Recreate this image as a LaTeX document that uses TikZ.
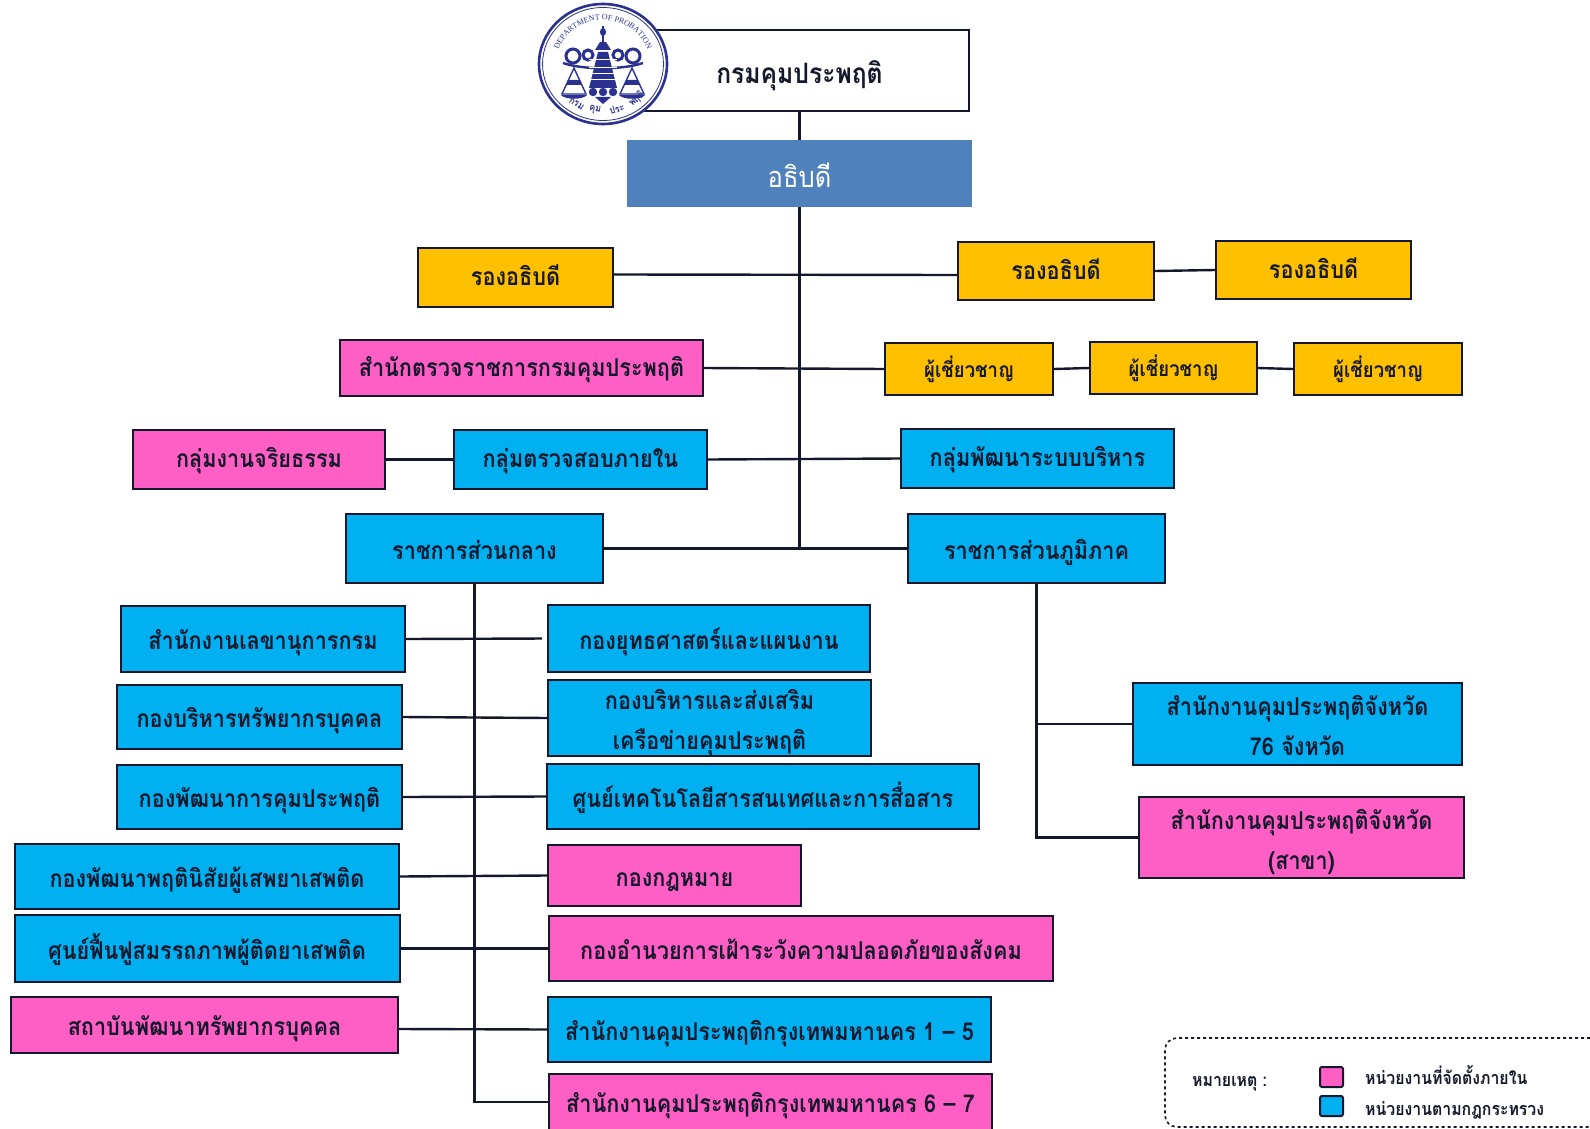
\documentclass[tikz,border=0pt]{standalone}
\usepackage{fontspec}
\setmainfont[Script=Thai,FakeStretch=0.88]{Loma}
\newfontfamily\sealfont{Liberation Serif}
\usetikzlibrary{decorations.text}
\definecolor{chiefblue}{HTML}{4F81BD}
\definecolor{unitblue}{HTML}{00B0F0}
\definecolor{unitpink}{HTML}{FF5FC5}
\definecolor{unitgold}{HTML}{FFC000}
\definecolor{sealnavy}{HTML}{2B3190}
\definecolor{inkdark}{HTML}{14182C}
\tikzset{
  orgbox/.style={draw=inkdark,line width=2pt,inner sep=0pt,text=inkdark,align=center,
    text height=22pt,text depth=6pt,font=\fontsize{24.6}{40}\selectfont\bfseries},
  lowtext/.style={text height=27pt,text depth=6pt},
  twoline/.style={text height=65pt,text depth=2pt},
  bluebox/.style={orgbox,fill=unitblue},
  pinkbox/.style={orgbox,fill=unitpink},
  goldbox/.style={orgbox,fill=unitgold},
  link/.style={draw=inkdark,line width=2.4pt},
  legendtext/.style={inner sep=0pt,anchor=west,text=inkdark,font=\fontsize{18}{20}\selectfont\bfseries},
  swatch/.style={draw=inkdark,line width=2pt,rounded corners=2pt,inner sep=0pt,minimum width=23pt,minimum height=20pt},
}
\begin{document}
\begin{tikzpicture}[x=1pt,y=-1pt]
\useasboundingbox (0,0) rectangle (1590,1129);

% top of the chart
\node[orgbox,fill=white,minimum width=339pt,minimum height=81pt,text height=32pt,font=\fontsize{28}{34}\selectfont\bfseries] (dept) at (799.5,70.5) {กรมคุมประพฤติ};
\node[draw=none,fill=chiefblue,text=white,inner sep=0pt,minimum width=345pt,minimum height=67pt,text height=34pt,text depth=6pt,font=\fontsize{29}{34}\selectfont] (chief) at (799.5,173.5) {อธิบดี};
\coordinate (trunkend) at (799.5,548);

% deputies and experts
\node[goldbox,minimum width=195pt,minimum height=59pt] (deputyA) at (515.5,277.5) {รองอธิบดี};
\node[goldbox,minimum width=196pt,minimum height=58pt] (deputyB) at (1056,271) {รองอธิบดี};
\node[goldbox,minimum width=195pt,minimum height=58pt] (deputyC) at (1313.5,270) {รองอธิบดี};
\node[pinkbox,minimum width=363pt,minimum height=56pt] (inspect) at (521.5,368) {สำนักตรวจราชการกรมคุมประพฤติ};
\node[goldbox,minimum width=168pt,minimum height=52pt,font=\fontsize{21}{30}\selectfont\bfseries] (expertA) at (969,369) {ผู้เชี่ยวชาญ};
\node[goldbox,minimum width=167pt,minimum height=52pt,font=\fontsize{21}{30}\selectfont\bfseries] (expertB) at (1173.5,368) {ผู้เชี่ยวชาญ};
\node[goldbox,minimum width=168pt,minimum height=52pt,font=\fontsize{21}{30}\selectfont\bfseries] (expertC) at (1378,369) {ผู้เชี่ยวชาญ};

% groups
\node[pinkbox,minimum width=252pt,minimum height=59pt] (ethics) at (259,459.5) {กลุ่มงานจริยธรรม};
\node[bluebox,minimum width=253pt,minimum height=59pt] (audit) at (580.5,459.5) {กลุ่มตรวจสอบภายใน};
\node[bluebox,minimum width=273pt,minimum height=59pt] (system) at (1037.5,458.5) {กลุ่มพัฒนาระบบบริหาร};
\node[bluebox,lowtext,minimum width=257pt,minimum height=69pt] (central) at (474.5,548.5) {ราชการส่วนกลาง};
\node[bluebox,lowtext,minimum width=257pt,minimum height=69pt] (region) at (1036.5,548.5) {ราชการส่วนภูมิภาค};

% central units, left column
\node[bluebox,lowtext,minimum width=284pt,minimum height=66pt] (secretary) at (263,639) {สำนักงานเลขานุการกรม};
\node[bluebox,lowtext,minimum width=285pt,minimum height=64pt] (personnel) at (259.5,717) {กองบริหารทรัพยากรบุคคล};
\node[bluebox,lowtext,minimum width=285pt,minimum height=64pt] (develop) at (259.5,797) {กองพัฒนาการคุมประพฤติ};
\node[bluebox,lowtext,minimum width=384pt,minimum height=65pt] (behavior) at (207,876.5) {กองพัฒนาพฤตินิสัยผู้เสพยาเสพติด};
\node[bluebox,lowtext,minimum width=385pt,minimum height=67pt] (rehab) at (207,948.5) {ศูนย์ฟื้นฟูสมรรถภาพผู้ติดยาเสพติด};
\node[pinkbox,lowtext,minimum width=387pt,minimum height=56pt] (institute) at (204.5,1025) {สถาบันพัฒนาทรัพยากรบุคคล};

% central units, right column
\node[bluebox,lowtext,minimum width=322pt,minimum height=67pt] (strategy) at (709,638.5) {กองยุทธศาสตร์และแผนงาน};
\node[bluebox,twoline,minimum width=323pt,minimum height=76pt] (network) at (709.5,718) {กองบริหารและส่งเสริม\\เครือข่ายคุมประพฤติ};
\node[bluebox,lowtext,minimum width=432pt,minimum height=65pt] (ictcenter) at (763,796.5) {ศูนย์เทคโนโลยีสารสนเทศและการสื่อสาร};
\node[pinkbox,lowtext,minimum width=253pt,minimum height=61pt] (legal) at (674.5,875.5) {กองกฎหมาย};
\node[pinkbox,lowtext,minimum width=504pt,minimum height=65pt] (safety) at (801,948.5) {กองอำนวยการเฝ้าระวังความปลอดภัยของสังคม};
\node[bluebox,lowtext,minimum width=443pt,minimum height=65pt] (bangkokA) at (769.5,1029.5) {สำนักงานคุมประพฤติกรุงเทพมหานคร 1 – 5};
\node[pinkbox,lowtext,minimum width=443pt,minimum height=57pt] (bangkokB) at (770.5,1102) {สำนักงานคุมประพฤติกรุงเทพมหานคร 6 – 7};

% provincial units
\node[bluebox,twoline,minimum width=329pt,minimum height=82pt] (provinceA) at (1297.5,724) {สำนักงานคุมประพฤติจังหวัด\\76 จังหวัด};
\node[pinkbox,twoline,minimum width=325pt,minimum height=81pt] (provinceB) at (1301.5,837.5) {สำนักงานคุมประพฤติจังหวัด\\(สาขา)};

% connectors
\draw[link] (chief.north) -- (chief.north |- dept.south);
\draw[link] (chief.south) -- (trunkend);
\draw[link] ([yshift=3pt]deputyA.east) -- ([yshift=-4pt]deputyB.west);
\draw[link] (deputyB.east) -- (deputyC.west);
\draw[link] (inspect.east) -- (expertA.west);
\draw[link] (expertA.east) -- (expertB.west);
\draw[link] (expertB.east) -- (expertC.west);
\draw[link] (ethics.east) -- (audit.west);
\draw[link] (audit.east) -- (system.west);
\draw[link] (central.east) -- (region.west);
\draw[link] (central.south) -- (central.south |- bangkokB.west) -- (bangkokB.west);
\draw[link,shorten >=5pt] (secretary.east) -- (strategy.west);
\draw[link] (personnel.east) -- (network.west);
\draw[link] (develop.east) -- (ictcenter.west);
\draw[link] (behavior.east) -- (legal.west);
\draw[link] (rehab.east) -- (safety.west);
\draw[link] ([yshift=-4pt]institute.east) -- (bangkokA.west);
\draw[link] (region.south) -- (region.south |- provinceB.west) -- (provinceB.west);
\draw[link] (region.south |- provinceA.west) -- (provinceA.west);

% seal
\begin{scope}[shift={(603,64)}]
\fill[white] (0,0) ellipse (65 and 61);
\draw[sealnavy,line width=2.6pt] (0,0) ellipse (64 and 60);
\draw[sealnavy,line width=0.8pt] (0,0) ellipse (60.5 and 56.5);
\begin{scope}[sealnavy]
\fill (0,-32) ellipse (3 and 4);
\draw[line width=1.4pt] (0,-38) -- (0,-20);
\fill (-8,-14) -- (-3,-22) -- (3,-22) -- (8,-14) -- cycle;
\fill (-5,-12) -- (5,-12) -- (14,24) -- (-14,24) -- cycle;
\draw[line width=3pt] (-30,-8) circle (7);
\draw[line width=3pt] (30,-8) circle (7);
\draw[line width=3pt] (-15,-9) circle (5);
\draw[line width=3pt] (15,-9) circle (5);
\draw[line width=2.4pt] (-40,-1) .. controls (-20,6) and (20,6) .. (40,-1);
\foreach \side in {-1,1} {
  \draw[line width=1.4pt] (\side*29,4) -- (\side*41,30) -- (\side*17,30) -- cycle;
  \fill (\side*35,16) -- (\side*23,16) -- (\side*21,21) -- (\side*37,21) -- cycle;
  \fill (\side*42,31) -- (\side*16,31) .. controls (\side*20,36) and (\side*38,36) .. (\side*42,31) -- cycle;
}
\foreach \px in {-10,0,10} \fill (\px,28) circle (4.2);
\fill (-8,33) -- (8,33) -- (0,40) -- cycle;
\end{scope}
\foreach \ly in {-4,4,10,16} \draw[white,line width=1pt] (-14,\ly) -- (14,\ly);
\path[decorate,decoration={text along path,text align=center,text color=sealnavy,
  text={|\sealfont\fontsize{8}{9}\selectfont|DEPARTMENT OF PROBATION}}]
  (192:47 and 44) arc[start angle=192,end angle=348,x radius=47,y radius=44];
\foreach \ang/\word/\nm in {122/กรม/a,99/คุม/b,74/ประ/c,48/พฤติ/d}
  \node[inner sep=0pt,text=sealnavy,rotate=90-\ang,font=\fontsize{10}{11}\selectfont\bfseries] (sealword\nm) at (\ang:50 and 47) {\word};
\end{scope}

% legend
\draw[inkdark,line width=1.6pt,dashed,rounded corners=12pt] (1590,1038) -- (1165,1038) -- (1165,1127) -- (1590,1127);
\node[legendtext] (notelabel) at (1192,1084) {หมายเหตุ :};
\node[swatch,fill=unitpink] (pinkkey) at (1331.5,1077) {};
\node[swatch,fill=unitblue] (bluekey) at (1331.5,1106) {};
\node[legendtext] (pinktext) at (1365,1075) {หน่วยงานที่จัดตั้งภายใน};
\node[legendtext] (bluetext) at (1365,1110) {หน่วยงานตามกฎกระทรวง};

\end{tikzpicture}
\end{document}
